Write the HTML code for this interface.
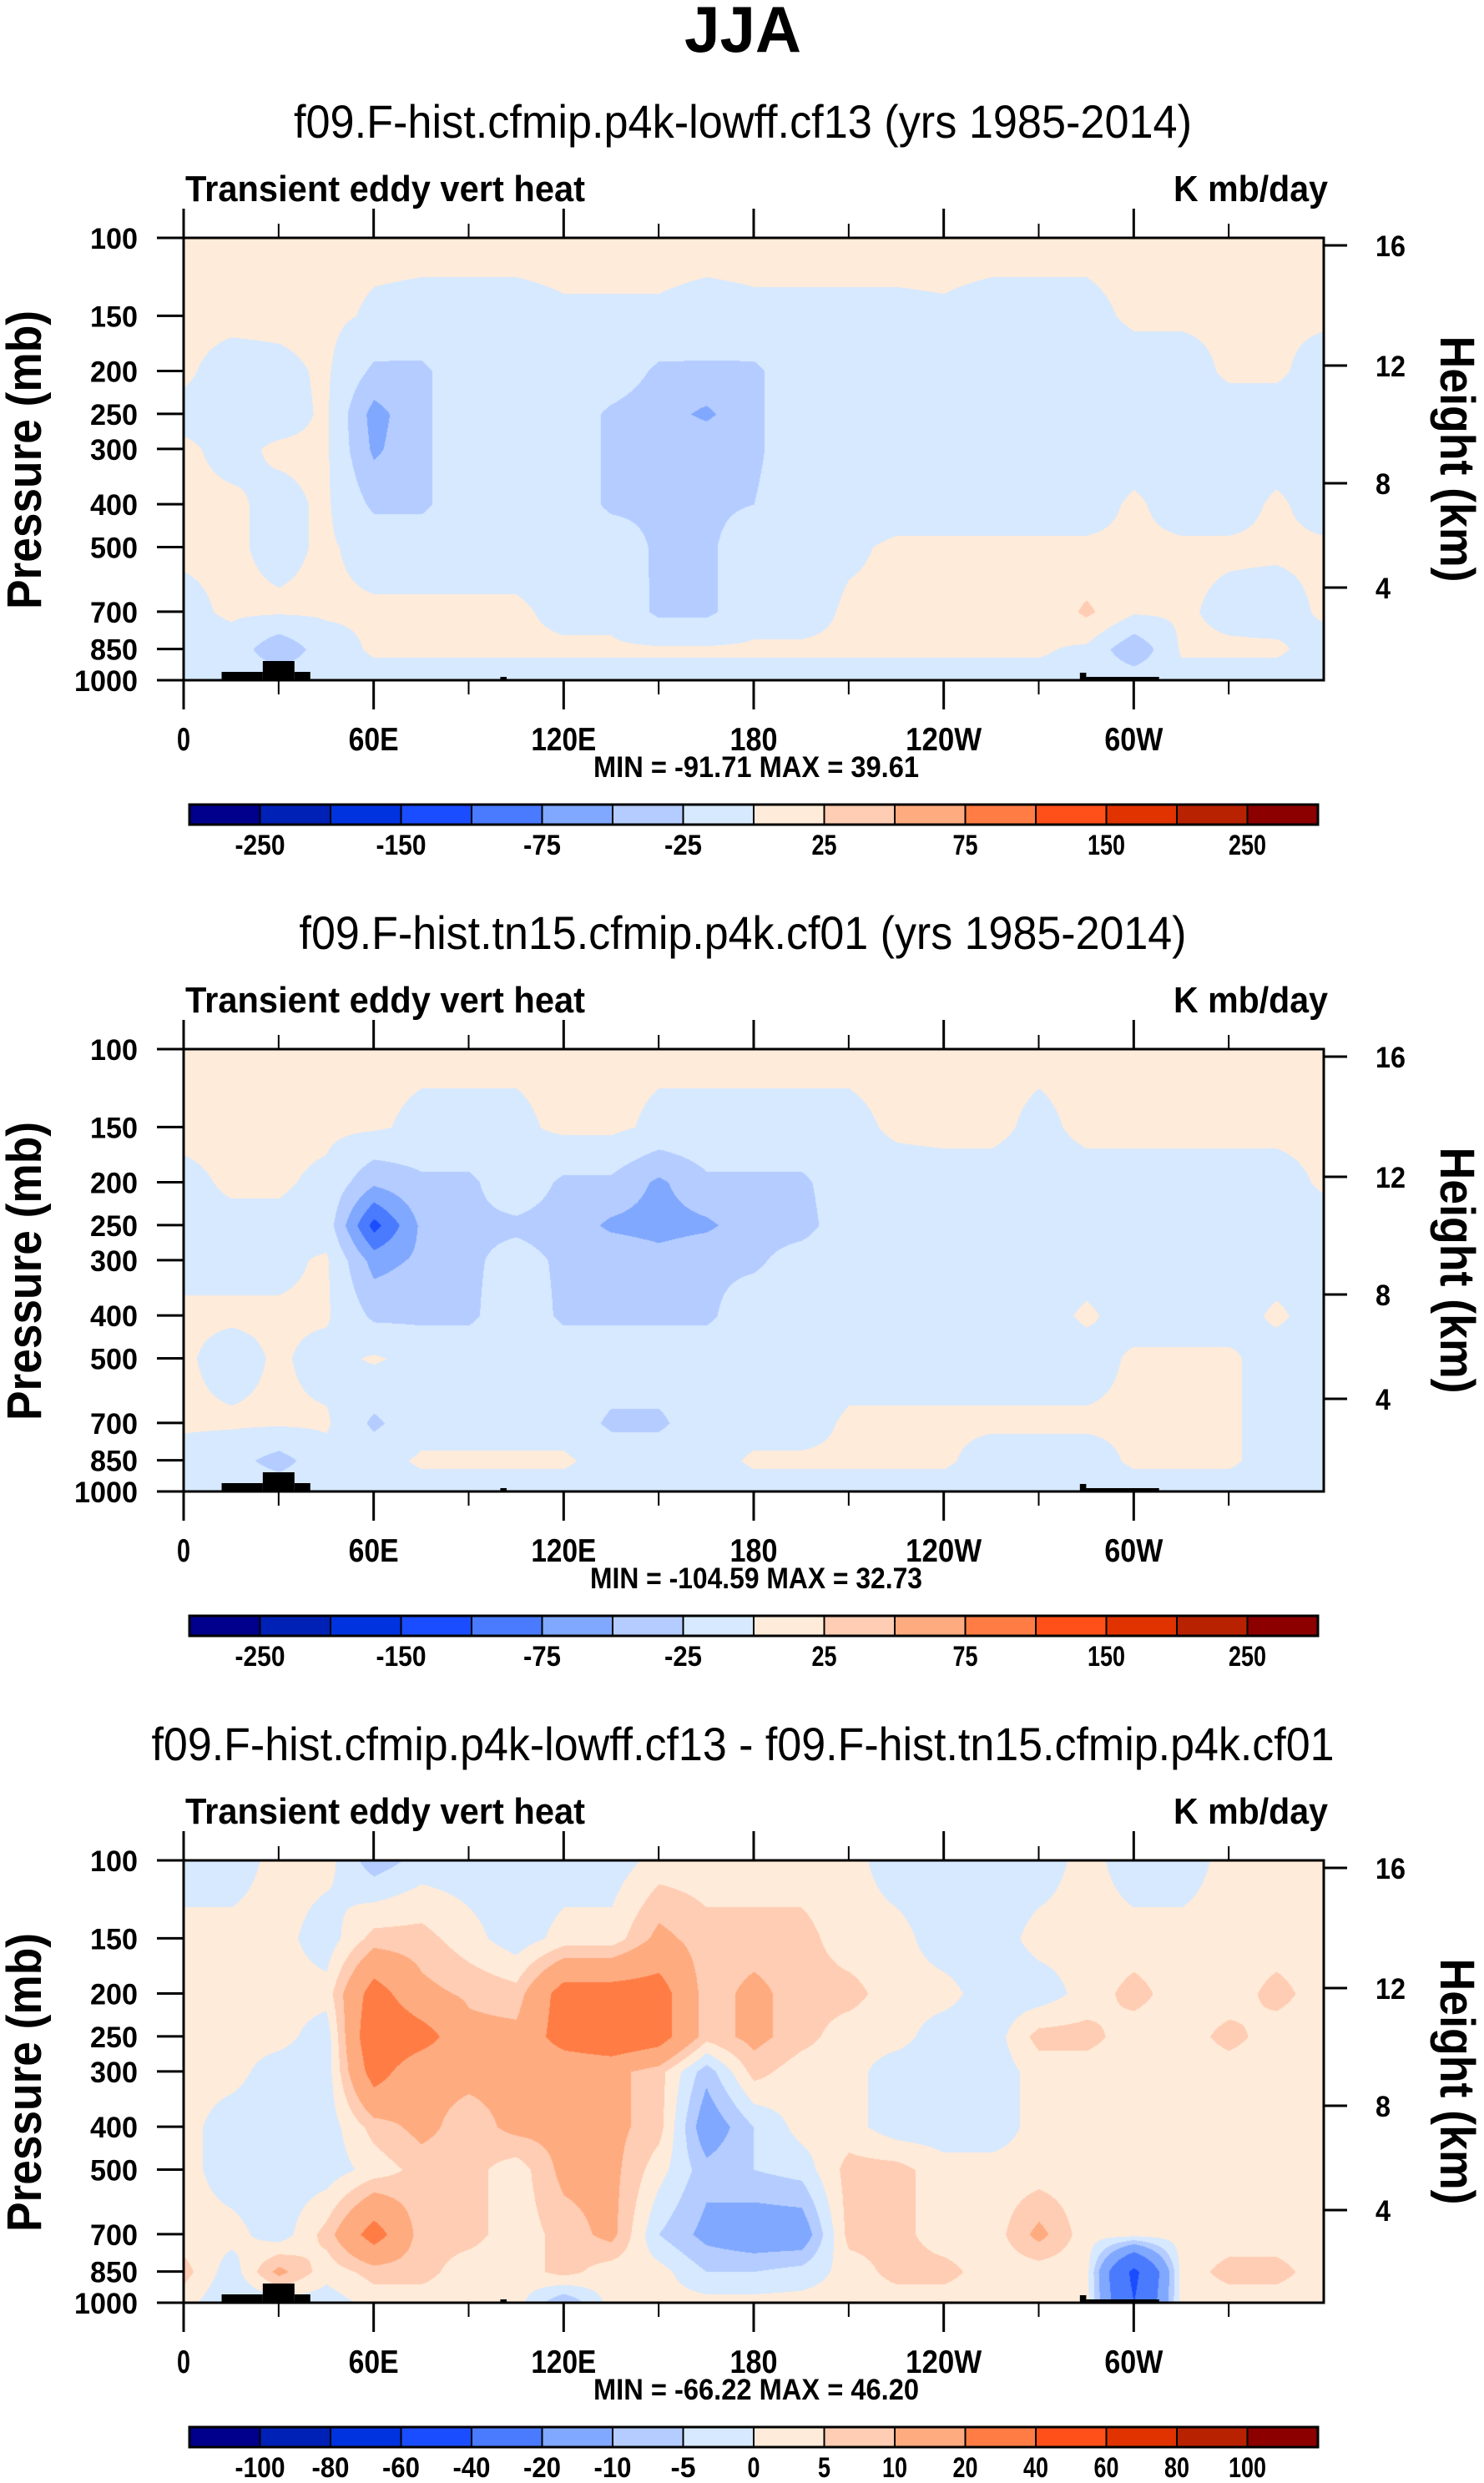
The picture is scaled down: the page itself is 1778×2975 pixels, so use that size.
<!DOCTYPE html>
<html><head><meta charset="utf-8">
<style>
html,body{margin:0;padding:0;background:#fff;}
#root{position:relative;width:1778px;height:2975px;overflow:hidden;background:#fff;}
canvas{position:absolute;}
svg{position:absolute;left:0;top:0;}
text{font-family:"Liberation Sans",sans-serif;fill:#000;}
</style></head>
<body>
<div id="root">
<canvas id="c0" width="1366" height="530" style="left:220px;top:285px"></canvas>
<canvas id="c1" width="1366" height="530" style="left:220px;top:1257px"></canvas>
<canvas id="c2" width="1366" height="530" style="left:220px;top:2229px"></canvas>
<svg id="ov" width="1778" height="2975">
<text x="890" y="62" text-anchor="middle" font-size="78" font-weight="bold" textLength="140" lengthAdjust="spacingAndGlyphs">JJA</text>
</svg>
</div>
<script>
// ---- data ----
const lons = [0,15,30,45,60,75,90,105,120,135,150,165,180,195,210,225,240,255,270,285,300,315,330,345,360];
const levels = [100,150,200,250,300,400,500,700,850,1000];
const panel1Values = [
[5,5,5,5,5,5,5,5,5,5,5,5,5,5,5,5,5,5,5,5,5,5,5,5,5],
[5,5,5,5,-3,-5,-5,-5,-2,-2,-2,-5,-3,-3,-3,-3,-2,-5,-5,-5,3,3,3,3,3],
[3,-8,-5,3,-30,-30,-8,-8,-8,-8,-30,-30,-30,-8,-8,-8,-8,-8,-8,-8,-8,-8,3,3,-8],
[-5,-5,-8,3,-60,-30,-8,-8,-8,-30,-40,-55,-30,-8,-8,-8,-8,-8,-8,-8,-8,-8,-8,-8,-8],
[3,-5,3,3,-55,-30,-8,-8,-8,-30,-30,-30,-30,-8,-8,-8,-8,-8,-8,-8,-8,-8,-8,-8,-8],
[3,3,-5,3,-30,-30,-8,-8,-8,-30,-30,-30,-25,-8,-8,-8,-8,-8,-8,-8,3,-8,-8,3,-8],
[3,3,-5,3,-8,-8,-8,-8,-8,-8,-30,-30,-8,-8,-3,3,3,3,3,3,3,3,3,3,3],
[-5,3,3,3,3,3,3,3,-5,-5,-30,-30,-8,-8,3,3,3,3,3,30,3,3,-5,-8,3],
[-8,-8,-45,-10,3,3,3,3,3,3,3,3,3,3,3,3,3,3,3,-5,-45,3,3,3,-8],
[-8,-8,-8,-8,-8,-8,-8,-8,-8,-8,-8,-8,-8,-8,-8,-8,-8,-8,-8,-8,-8,-8,-8,-8,-8]];
const panel2Values = [
[5,5,5,5,5,5,5,5,5,5,5,5,5,5,5,5,5,5,5,5,5,5,5,5,5],
[5,5,5,5,3,-5,-5,-5,5,5,-5,-5,-5,-5,-5,3,5,5,-5,5,5,5,5,5,5],
[-5,3,3,-5,-45,-30,-30,-8,-30,-30,-55,-30,-30,-30,-8,-8,-8,-8,-8,-8,-8,-8,-8,-8,3],
[-5,-5,-5,-10,-110,-45,-30,-30,-35,-55,-60,-55,-35,-35,-8,-8,-8,-8,-8,-8,-8,-8,-8,-8,-8],
[-5,-5,-5,3,-60,-45,-30,-15,-30,-30,-40,-30,-30,-12,-8,-8,-8,-8,-8,-8,-8,-8,-8,-8,-8],
[3,3,3,3,-30,-30,-30,-8,-30,-30,-30,-30,-8,-8,-8,-8,-8,-8,-8,3,-8,-8,-8,3,-8],
[3,-8,3,-8,3,-8,-8,-8,-8,-8,-8,-8,-8,-8,-8,-8,-8,-8,-8,-8,3,3,3,-8,-8],
[3,3,3,3,-30,-8,-8,-8,-8,-30,-30,-8,-8,-8,3,3,3,3,3,3,3,3,3,-8,-8],
[-8,-15,-35,-8,-8,3,3,3,3,-8,-8,-8,3,3,3,3,3,-8,-8,-8,3,3,3,-8,-8],
[-8,-8,-8,-8,-8,-8,-8,-8,-8,-8,-8,-8,-8,-8,-8,-8,-8,-8,-8,-8,-8,-8,-8,-8,-8]];
const panel3Values = [
[-3,-3,2,2,-8,-3,-3,-3,-3,-3,2,2,2,2,2,-3,-3,-3,-3,2,-3,-3,2,2,2],
[2,2,2,-3,7,7,2,-3,2,2,12,7,7,7,2,2,-3,-3,2,2,2,2,2,2,2],
[2,2,2,2,25,12,9,7,25,25,25,7,12,7,7,2,2,-3,-3,2,7,2,2,7,2],
[2,2,2,-3,30,25,12,12,25,30,25,7,12,7,2,2,-3,-3,7,7,2,2,7,2,2],
[2,2,-3,-3,25,12,12,12,12,12,7,-8,7,2,2,-3,-3,-3,2,2,2,2,2,2,2],
[2,-3,-3,-3,7,12,7,12,12,12,7,-15,-5,2,2,-3,-3,-3,2,2,2,2,2,2,2],
[2,-3,-3,-3,2,7,7,2,12,12,2,-8,-5,-3,7,7,2,2,2,2,2,2,2,2,2],
[2,2,-3,7,25,7,7,2,7,12,-5,-12,-15,-15,7,7,2,2,12,2,2,2,2,2,2],
[7,-3,12,2,7,7,2,2,7,2,2,-5,-5,-3,2,7,7,2,2,2,-45,2,7,7,2],
[2,-5,-3,-3,2,2,2,2,-10,2,2,2,2,2,2,2,2,2,2,2,-40,2,2,2,2]];
const bins12 = [-250,-200,-150,-100,-75,-50,-25,0,25,50,75,100,150,200,250];
const bins3 = [-100,-80,-60,-40,-20,-10,-5,0,5,10,20,40,60,80,100];
const cbLabels12 = ["","-250","","-150","","-75","","-25","","25","","75","","150","","250",""];
const cbLabels3 = ["","-100","-80","-60","-40","-20","-10","-5","0","5","10","20","40","60","80","100",""];
const palette = ["#00008c","#0021b5","#0033e0","#1a4dff","#4a7bff","#80a8ff","#b4ccff","#d6e9ff","#ffebd9","#ffcdb3","#ffab80","#ff7d45","#ff501a","#e03300","#b82200","#8c0000"];
const lonTicks = [0,60,120,180,240,300];
const lonTickLabels = ["0","60E","120E","180","120W","60W"];
const pTicks = [100,150,200,250,300,400,500,700,850,1000];
const hTicks = [16,12,8,4];
const topoLon0 = [12,25,35,100,283,285];
const topoLon1 = [25,35,40,102,285,308];
const topoHeight = [10,23,10,4,9,4];
const titles = ["f09.F-hist.cfmip.p4k-lowff.cf13 (yrs 1985-2014)","f09.F-hist.tn15.cfmip.p4k.cf01 (yrs 1985-2014)","f09.F-hist.cfmip.p4k-lowff.cf13 - f09.F-hist.tn15.cfmip.p4k.cf01"];
const titleWidths = [1076,1063,1417];
const minmax = ["MIN = -91.71  MAX =  39.61","MIN = -104.59  MAX =  32.73","MIN = -66.22  MAX =  46.20"];
const minmaxWidths = [390,398,390];

// ---- geometry ----
const PL=220, PR=1586, PW=PR-PL, PH=530;
const OFF=[0,972,1944];
const TOP=285;
const xOf = lon => PL + lon/360*PW;
const yOf = (p,o) => TOP+o + (Math.log10(p)-2)*PH;
const hY = [294,438,579,704];
const NS='http://www.w3.org/2000/svg';
const ov=document.getElementById('ov');
function mk(tag, attrs, parent){const e=document.createElementNS(NS,tag);for(const k in attrs)e.setAttribute(k,attrs[k]);(parent||ov).appendChild(e);return e;}

function valueAt(grid, lon, lp){
  let i=Math.min(lons.length-2, Math.floor(lon/15)); let tx=(lon-lons[i])/15;
  let j=0; const ll=levels.map(Math.log10);
  while(j<levels.length-2 && lp>ll[j+1]) j++;
  let ty=(lp-ll[j])/(ll[j+1]-ll[j]); ty=Math.max(0,Math.min(1,ty));
  const a=grid[j][i],b=grid[j][i+1],c=grid[j+1][i],d=grid[j+1][i+1];
  return (a*(1-tx)+b*tx)*(1-ty)+(c*(1-tx)+d*tx)*ty;
}
function hex(h){return [parseInt(h.substr(1,2),16),parseInt(h.substr(3,2),16),parseInt(h.substr(5,2),16)];}
const palRGB = palette.map(hex);
function binIdx(v,bins){let k=0;while(k<bins.length && v>=bins[k])k++;return k;}

const grids=[panel1Values,panel2Values,panel3Values];
const binsets=[bins12,bins12,bins3];
const cbl=[cbLabels12,cbLabels12,cbLabels3];
for(let p=0;p<3;p++){
  const cv=document.getElementById('c'+p), ctx=cv.getContext('2d');
  const img=ctx.createImageData(PW,PH);
  for(let y=0;y<PH;y++){
    const lp=2+y/PH;
    for(let x=0;x<PW;x++){
      const v=valueAt(grids[p], x/PW*360, lp);
      const c=palRGB[binIdx(v,binsets[p])];
      const o=(y*PW+x)*4; img.data[o]=c[0];img.data[o+1]=c[1];img.data[o+2]=c[2];img.data[o+3]=255;
    }
  }
  ctx.putImageData(img,0,0);
  const o=OFF[p];
  const g=mk('g',{});
  
  
  for(let k=0;k<topoLon0.length;k++){
    const r=mk('rect',{x:xOf(topoLon0[k]),y:TOP+o+PH-topoHeight[k],width:xOf(topoLon1[k])-xOf(topoLon0[k]),height:topoHeight[k],fill:'#000'},g);
    
    
  }
  const fr=mk('rect',{x:PL,y:TOP+o,width:PW,height:PH,fill:'none',stroke:'#000','stroke-width':3},g);
  
  
  for(let lon=0;lon<=330;lon+=30){
    const maj=lon%60===0, x=xOf(lon);
    mk('line',{x1:x,y1:TOP+o,x2:x,y2:TOP+o-(maj?35:17),stroke:'#000','stroke-width':maj?3:2},g);
    mk('line',{x1:x,y1:TOP+o+PH,x2:x,y2:TOP+o+PH+(maj?35:17),stroke:'#000','stroke-width':maj?3:2},g);
  }
  const lw=[16,60,78,57,91,70];
  lonTicks.forEach((lon,k)=>{
    const t=mk('text',{x:xOf(lon),y:899+o,'text-anchor':'middle','font-size':39,'font-weight':'bold',textLength:lw[k],lengthAdjust:'spacingAndGlyphs'},g);
    t.textContent=lonTickLabels[k];
    
    
  });
  pTicks.forEach(pv=>{
    const y=yOf(pv,o);
    mk('line',{x1:PL,y1:y,x2:PL-32,y2:y,stroke:'#000','stroke-width':3},g);
    const t=mk('text',{x:165,y:y+13,'text-anchor':'end','font-size':35,'font-weight':'bold',textLength:String(pv).length>3?76:57,lengthAdjust:'spacingAndGlyphs'},g);
    t.textContent=String(pv);
    
    
  });
  hTicks.forEach((h,k)=>{
    const y=hY[k]+o;
    mk('line',{x1:PR,y1:y,x2:PR+28,y2:y,stroke:'#000','stroke-width':3},g);
    const t=mk('text',{x:1648,y:y+13,'font-size':35,'font-weight':'bold',textLength:String(h).length>1?36:18,lengthAdjust:'spacingAndGlyphs'},g);
    t.textContent=String(h);
    
    
  });
  let t=mk('text',{x:890,y:165+o,'text-anchor':'middle','font-size':56,textLength:titleWidths[p],lengthAdjust:'spacingAndGlyphs'},g);
  t.textContent=titles[p];
  
  
  t=mk('text',{x:222,y:241+o,'font-size':44,'font-weight':'bold',textLength:479,lengthAdjust:'spacingAndGlyphs'},g);
  t.textContent='Transient eddy vert heat';
  
  
  t=mk('text',{x:1591,y:241+o,'text-anchor':'end','font-size':44,'font-weight':'bold',textLength:185,lengthAdjust:'spacingAndGlyphs'},g);
  t.textContent='K mb/day';
  
  
  t=mk('text',{x:906,y:931+o,'text-anchor':'middle','font-size':35,'font-weight':'bold',textLength:minmaxWidths[p],lengthAdjust:'spacingAndGlyphs'},g);
  t.textContent=minmax[p];
  
  
  t=mk('text',{x:0,y:0,'text-anchor':'middle','font-size':58,'font-weight':'bold',textLength:358,lengthAdjust:'spacingAndGlyphs',transform:`translate(49,${551+o}) rotate(-90)`},g);
  t.textContent='Pressure (mb)';
  
  
  t=mk('text',{x:0,y:0,'text-anchor':'middle','font-size':58,'font-weight':'bold',textLength:295,lengthAdjust:'spacingAndGlyphs',transform:`translate(1726,${550+o}) rotate(90)`},g);
  t.textContent='Height (km)';
  
  
  const cx0=227,cx1=1579,cw=(cx1-cx0)/16,cy=964+o,ch=24;
  for(let k=0;k<16;k++){
    const r=mk('rect',{x:cx0+k*cw,y:cy,width:cw,height:ch,fill:palette[k],stroke:'#000','stroke-width':2},g);
    
    
  }
  mk('rect',{x:cx0,y:cy,width:cx1-cx0,height:ch,fill:'none',stroke:'#000','stroke-width':3},g);
  cbl[p].forEach((lab,k)=>{
    if(!lab)return;
    const tt=mk('text',{x:cx0+k*cw,y:1024+o,'text-anchor':'middle','font-size':34,'font-weight':'bold',textLength:lab.length*15,lengthAdjust:'spacingAndGlyphs'},g);
    tt.textContent=lab;
    
    
  });
}
</script>
</body></html>
